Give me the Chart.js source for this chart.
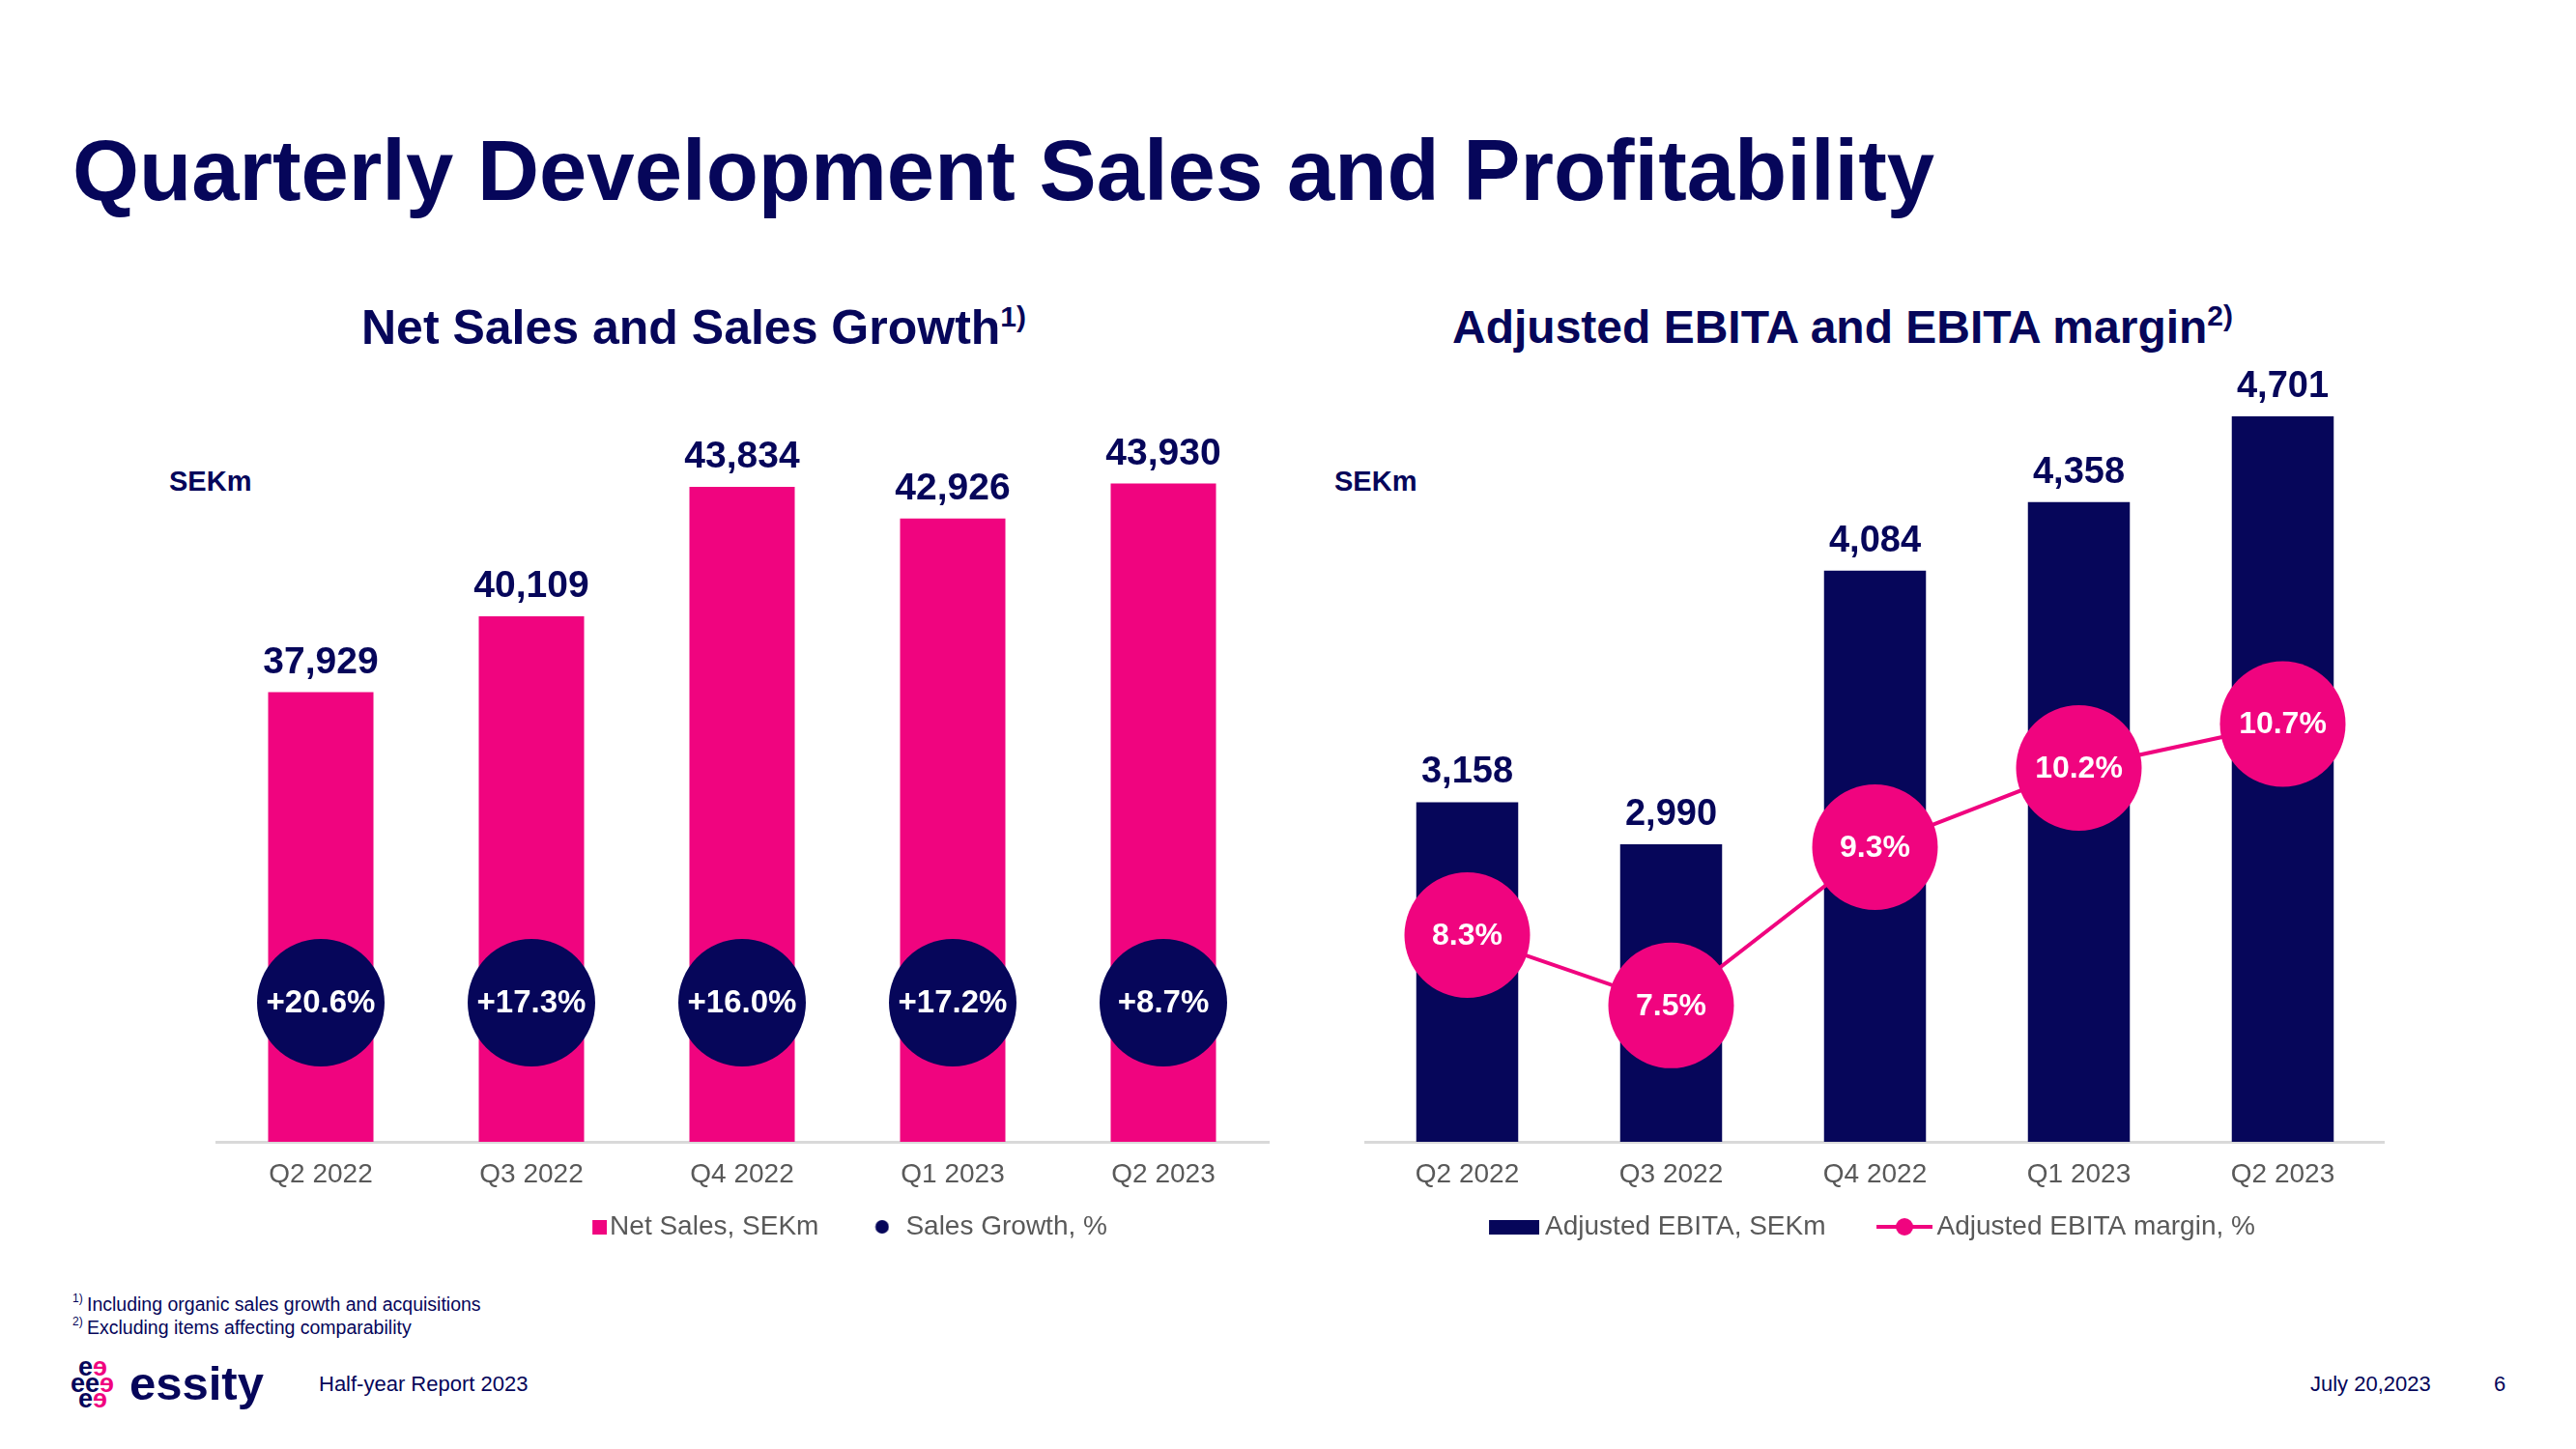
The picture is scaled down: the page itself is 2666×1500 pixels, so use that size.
<!DOCTYPE html>
<html lang="en">
<head>
<meta charset="UTF-8">
<title>Quarterly Development Sales and Profitability</title>
<script src="https://cdn.jsdelivr.net/npm/chart.js"></script>
<style>
  html, body { margin: 0; padding: 0; background: #fff; }
  body {
    width: 2666px; height: 1500px; position: relative; overflow: hidden;
    font-family: "Liberation Sans", Arial, sans-serif; color: #06065a;
  }
  .abs { position: absolute; line-height: 1; white-space: nowrap; }
  .bold { font-weight: bold; }
  canvas { position: absolute; }
  .mark div { height: 16.5px; }
  .mark .m { display: inline-block; transform: scaleX(-1); color: #f0047f; }
</style>
</head>
<body>
  <div class="abs bold" style="left:75px; top:133px; font-size:88.7px;">Quarterly Development Sales and Profitability</div>

  <div class="abs bold" style="left:374px; top:314px; font-size:50px;">Net Sales and Sales Growth<span style="font-size:30px; position:relative; top:-18px;">1)</span></div>
  <div class="abs bold" style="left:1503px; top:315px; font-size:48px;">Adjusted EBITA and EBITA margin<span style="font-size:30px; position:relative; top:-18px;">2)</span></div>

  <div class="abs bold" style="left:175px; top:484px; font-size:29px;">SEKm</div>
  <div class="abs bold" style="left:1381px; top:484px; font-size:29px;">SEKm</div>

  <canvas id="salesChart" width="1251" height="1054" style="left:223px; top:240px;"></canvas>
  <canvas id="ebitaChart" width="1108" height="1054" style="left:1360px; top:240px;"></canvas>

  <div class="abs" style="left:75px; top:1338px; font-size:12px;">1)</div>
  <div class="abs" style="left:90px; top:1341px; font-size:19.5px;">Including organic sales growth and acquisitions</div>
  <div class="abs" style="left:75px; top:1362px; font-size:12px;">2)</div>
  <div class="abs" style="left:90px; top:1365px; font-size:19.5px;">Excluding items affecting comparability</div>

  <div class="abs bold mark" style="left:73px; top:1407px; font-size:27px; line-height:16.5px;">
    <div style="padding-left:8px">e<span class="m">e</span></div>
    <div>ee<span class="m">e</span></div>
    <div style="padding-left:8px">e<span class="m">e</span></div>
  </div>
  <div class="abs bold" style="left:134px; top:1408px; font-size:49px;">essity</div>
  <div class="abs" style="left:330px; top:1422px; font-size:22px;">Half-year Report 2023</div>
  <div class="abs" style="left:2391px; top:1422px; font-size:22px;">July 20,2023</div>
  <div class="abs" style="left:2581px; top:1422px; font-size:22px;">6</div>

<script>
// data
const quarters = ['Q2 2022', 'Q3 2022', 'Q4 2022', 'Q1 2023', 'Q2 2023'];
const netSales = [37929, 40109, 43834, 42926, 43930];
const salesGrowth = [20.6, 17.3, 16.0, 17.2, 8.7];
const adjEbita = [3158, 2990, 4084, 4358, 4701];
const ebitaMargin = [8.3, 7.5, 9.3, 10.2, 10.7];

const NAVY = '#06065a';
const PINK = '#f0047f';
const GREY = '#595959';
const FONT = '"Liberation Sans", Arial, sans-serif';

// growth bubbles sit on one level of the sales axis, like in the slide
const growthBubbleLevel = 29000;

// small canvases used as legend markers (marker drawn at the right end)
function legendIcon(w, h, draw) {
    const c = document.createElement('canvas');
    c.width = w;
    c.height = h;
    draw(c.getContext('2d'));
    return c;
}
const iconSquare = legendIcon(88, 15, g => { g.fillStyle = PINK; g.fillRect(73, 0, 15, 15); });
const iconDot = legendIcon(60, 14, g => {
    g.fillStyle = NAVY; g.beginPath(); g.arc(52.5, 7, 7, 0, Math.PI * 2); g.fill();
});
const iconBar = legendIcon(107, 15, g => { g.fillStyle = NAVY; g.fillRect(55, 0, 52, 15); });
const iconLineDot = legendIcon(110, 18, g => {
    g.strokeStyle = PINK; g.lineWidth = 4;
    g.beginPath(); g.moveTo(52, 9); g.lineTo(110, 9); g.stroke();
    g.fillStyle = PINK; g.beginPath(); g.arc(81, 9, 9, 0, Math.PI * 2); g.fill();
});

// draws value text above bars / inside bubbles
const valueLabels = {
    id: 'valueLabels',
    afterDatasetsDraw(chart) {
        const ctx = chart.ctx;
        chart.data.datasets.forEach((ds, i) => {
            if (!ds.labelValues) return;
            const meta = chart.getDatasetMeta(i);
            ctx.save();
            ctx.font = ds.labelFont;
            ctx.fillStyle = ds.labelColor;
            ctx.textAlign = 'center';
            meta.data.forEach((el, j) => {
                const txt = ds.labelFormat(ds.labelValues[j]);
                if (ds.labelPos === 'above') {
                    ctx.textBaseline = 'alphabetic';
                    ctx.fillText(txt, el.x, el.y - 20);
                } else {
                    ctx.textBaseline = 'middle';
                    ctx.fillText(txt, el.x, el.y + 1);
                }
            });
            ctx.restore();
        });
    }
};

function xAxis() {
    return {
        grid: { display: false, drawTicks: false },
        border: { display: true, color: '#d9d9d9', width: 3 },
        ticks: { color: GREY, font: { family: FONT, size: 28 }, padding: 17 },
        afterFit: s => { s.height = 64; }
    };
}

function padAxis(pos, w) {
    return {
        position: pos,
        grid: { display: false, drawTicks: false },
        border: { display: false },
        ticks: { display: false },
        afterFit: s => { s.width = w; }
    };
}

new Chart(document.getElementById('salesChart'), {
    type: 'bar',
    data: {
        labels: quarters,
        datasets: [
            {
                type: 'line',
                label: 'Sales Growth, %',
                data: quarters.map(() => growthBubbleLevel),
                showLine: false,
                pointRadius: 66,
                pointHoverRadius: 66,
                pointBorderWidth: 0,
                pointBackgroundColor: NAVY,
                order: 0,
                labelValues: salesGrowth,
                labelFormat: v => '+' + v.toFixed(1) + '%',
                labelPos: 'center',
                labelColor: '#ffffff',
                labelFont: 'bold 33px ' + FONT
            },
            {
                label: 'Net Sales, SEKm',
                data: netSales,
                backgroundColor: PINK,
                barPercentage: 0.5,
                categoryPercentage: 1.0,
                order: 1,
                labelValues: netSales,
                labelFormat: v => v.toLocaleString('en-US'),
                labelPos: 'above',
                labelColor: NAVY,
                labelFont: 'bold 39px ' + FONT
            }
        ]
    },
    options: {
        responsive: false,
        animation: false,
        events: [],
        layout: { autoPadding: false, padding: { top: 42, left: 0, right: 0, bottom: 0 } },
        scales: {
            x: xAxis(),
            y: { display: false, min: 25000, max: 50000 },
            yPad: padAxis('right', 161)
        },
        plugins: {
            tooltip: { enabled: false },
            legend: {
                position: 'bottom',
                labels: {
                    font: { family: FONT, size: 28 },
                    color: GREY,
                    usePointStyle: true,
                    pointStyleWidth: 66,
                    boxWidth: 66,
                    padding: 10,
                    generateLabels: () => [
                        { text: 'Net Sales, SEKm', pointStyle: iconSquare, fillStyle: PINK, strokeStyle: PINK, lineWidth: 0, fontColor: GREY, hidden: false, datasetIndex: 1 },
                        { text: 'Sales Growth, %', pointStyle: iconDot, fillStyle: NAVY, strokeStyle: NAVY, lineWidth: 0, fontColor: GREY, hidden: false, datasetIndex: 0 }
                    ]
                }
            }
        }
    },
    plugins: [valueLabels]
});

new Chart(document.getElementById('ebitaChart'), {
    type: 'bar',
    data: {
        labels: quarters,
        datasets: [
            {
                type: 'line',
                label: 'Adjusted EBITA margin, %',
                data: ebitaMargin,
                yAxisID: 'y2',
                borderColor: PINK,
                borderWidth: 4,
                pointRadius: 65,
                pointHoverRadius: 65,
                pointBorderWidth: 0,
                pointBackgroundColor: PINK,
                order: 0,
                labelValues: ebitaMargin,
                labelFormat: v => v.toFixed(1) + '%',
                labelPos: 'center',
                labelColor: '#ffffff',
                labelFont: 'bold 32px ' + FONT
            },
            {
                label: 'Adjusted EBITA, SEKm',
                data: adjEbita,
                backgroundColor: NAVY,
                barPercentage: 0.5,
                categoryPercentage: 1.0,
                order: 1,
                labelValues: adjEbita,
                labelFormat: v => v.toLocaleString('en-US'),
                labelPos: 'above',
                labelColor: NAVY,
                labelFont: 'bold 38px ' + FONT
            }
        ]
    },
    options: {
        responsive: false,
        animation: false,
        events: [],
        layout: { autoPadding: false, padding: { top: 36, left: 0, right: 0, bottom: 0 } },
        scales: {
            x: xAxis(),
            y: { display: false, min: 1800, max: 5300 },
            y2: { display: false, position: 'right', min: 5.95, max: 15.9 },
            yPad: padAxis('left', 53)
        },
        plugins: {
            tooltip: { enabled: false },
            legend: {
                position: 'bottom',
                labels: {
                    font: { family: FONT, size: 28 },
                    color: GREY,
                    usePointStyle: true,
                    pointStyleWidth: 91,
                    boxWidth: 91,
                    padding: 10,
                    generateLabels: () => [
                        { text: 'Adjusted EBITA, SEKm', pointStyle: iconBar, fillStyle: NAVY, strokeStyle: NAVY, lineWidth: 0, fontColor: GREY, hidden: false, datasetIndex: 1 },
                        { text: 'Adjusted EBITA margin, %', pointStyle: iconLineDot, fillStyle: PINK, strokeStyle: PINK, lineWidth: 0, fontColor: GREY, hidden: false, datasetIndex: 0 }
                    ]
                }
            }
        }
    },
    plugins: [valueLabels]
});
</script>
</body>
</html>
